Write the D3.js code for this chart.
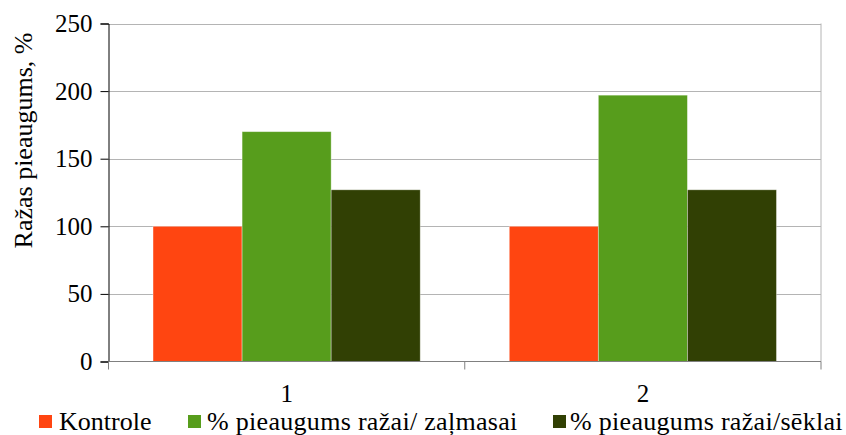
<!DOCTYPE html>
<html>
<head>
<meta charset="utf-8">
<script src="https://cdn.jsdelivr.net/npm/d3@7/dist/d3.min.js"></script>
<style>
  html, body { margin: 0; padding: 0; background: #fff; }
  svg { display: block; }
</style>
</head>
<body>
<script>
// Yield growth, % relative to control
const categories = ["1", "2"];
const seriesNames = ["Kontrole", "% pieaugums ražai/ zaļmasai", "% pieaugums ražai/sēklai"];
const kontrole = [100, 100];
const zalmasai = [170, 197];
const seklai = [127, 127];
const yTicks = [0, 50, 100, 150, 200, 250];
const colors = ["#FF4511", "#579D1C", "#314004"];

const FONT = "'Liberation Serif', 'Times New Roman', Times, Tinos, 'DejaVu Serif', serif";
const W = 846, H = 435;
const m = { left: 108.5, right: 25, top: 23.5, bottom: 73.5 };
const x0 = m.left, x1 = W - m.right, y0 = H - m.bottom, y1 = m.top;

const svg = d3.select("body").append("svg").attr("width", W).attr("height", H)
  .attr("font-family", FONT);

const x = d3.scaleBand().domain(categories).range([x0, x1]).padding(0);
const xs = d3.scaleBand().domain(seriesNames).range([0, x.bandwidth()])
  .paddingInner(0).paddingOuter(0.5);
const y = d3.scaleLinear().domain([0, 250]).range([y0, y1]);

// horizontal gridlines
svg.append("g").selectAll("line").data(yTicks.filter(t => t > 0)).join("line")
  .attr("x1", x0).attr("x2", x1)
  .attr("y1", d => Math.round(y(d)) + 0.5).attr("y2", d => Math.round(y(d)) + 0.5)
  .attr("stroke", "#b4b4b4").attr("stroke-width", 1);

// right frame
svg.append("line").attr("x1", x1).attr("x2", x1).attr("y1", y1).attr("y2", y0)
  .attr("stroke", "#b4b4b4").attr("stroke-width", 1);

// bars
const rows = categories.map((c, i) => ({
  cat: c,
  vals: [kontrole[i], zalmasai[i], seklai[i]]
}));
svg.append("g").selectAll("g").data(rows).join("g")
  .attr("transform", d => `translate(${x(d.cat)},0)`)
  .selectAll("rect").data(d => d.vals.map((v, j) => ({ v, j })))
  .join("rect")
  .attr("x", d => xs(seriesNames[d.j]))
  .attr("width", xs.bandwidth())
  .attr("y", d => y(d.v))
  .attr("height", d => y(0) - y(d.v))
  .attr("fill", d => colors[d.j])
  .attr("stroke", "rgba(255,255,255,0.45)")
  .attr("stroke-width", 0.8);

// y axis
const yAxis = d3.axisLeft(y).tickValues(yTicks).tickSize(8).tickPadding(8);
const gy = svg.append("g").attr("transform", `translate(${x0},0)`).call(yAxis)
  .attr("font-family", FONT).attr("font-size", 25);
gy.select(".domain").attr("stroke", "#000");
gy.selectAll(".tick line").attr("stroke", "#000");
gy.selectAll(".tick text").attr("fill", "#000");

// x axis
const gx = svg.append("g").attr("transform", `translate(0,${y0})`);
gx.append("line").attr("x1", x0).attr("x2", x1).attr("y1", 0).attr("y2", 0)
  .attr("stroke", "#808080").attr("stroke-width", 1.2);
const xEdges = [x0, ...categories.map(c => x(c) + x.bandwidth())];
gx.selectAll("line.tk").data(xEdges).join("line").attr("class", "tk")
  .attr("x1", d => d).attr("x2", d => d).attr("y1", 0).attr("y2", 8)
  .attr("stroke", "#808080");
gx.selectAll("text").data(categories).join("text")
  .attr("x", d => x(d) + x.bandwidth() / 2).attr("y", 40)
  .attr("text-anchor", "middle").attr("font-size", 25).text(d => d);

// y title
svg.append("text")
  .attr("transform", `translate(32,140.5) rotate(-90)`)
  .attr("text-anchor", "middle").attr("font-size", 26)
  .text("Ražas pieaugums, %");

// legend
const swatchX = [39, 188, 553];
const labelX = [59, 207, 570];
const lg = svg.append("g").selectAll("g").data(seriesNames).join("g");
lg.append("rect").attr("x", (d, i) => swatchX[i]).attr("y", 415)
  .attr("width", 13).attr("height", 13).attr("fill", (d, i) => colors[i]);
lg.append("text").attr("x", (d, i) => labelX[i]).attr("y", 429.5)
  .attr("font-size", 26).attr("letter-spacing", (d, i) => i === 0 ? 0 : 0.3)
  .text(d => d);
</script>
</body>
</html>
